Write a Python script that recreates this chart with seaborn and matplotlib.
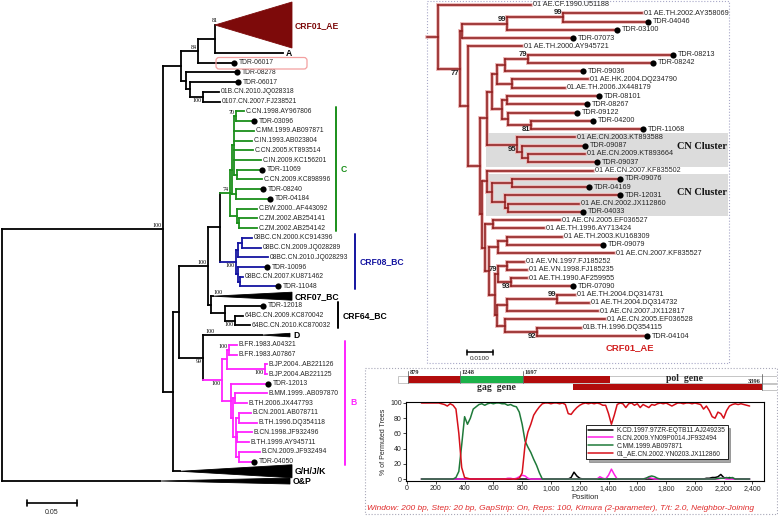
import numpy as np
import pandas as pd
import matplotlib
matplotlib.use("Agg")
import matplotlib.pyplot as plt
from matplotlib.patches import Polygon, Rectangle, FancyBboxPatch
from matplotlib.ticker import FuncFormatter, MultipleLocator
import seaborn as sns

# ---------------- data: left tree (whole-genome panel) ----------------
left_leaves = [
    "CRF01_AE", "A", "TDR-06017#1", "TDR-08278", "TDR-06017#2",
    "01B.CN.2010.JQ028318", "0107.CN.2007.FJ238521",
    "C.CN.1998.AY967806", "TDR-03096", "C.MM.1999.AB097871", "C.IN.1993.AB023804",
    "C.CN.2005.KT893514", "C.IN.2009.KC156201", "TDR-11069", "C.CN.2009.KC898996",
    "TDR-08240", "TDR-04184", "C.BW.2000..AF443092", "C.ZM.2002.AB254141", "C.ZM.2002.AB254142",
    "08BC.CN.2000.KC914396", "08BC.CN.2009.JQ028289", "08BC.CN.2010.JQ028293", "TDR-10096",
    "08BC.CN.2007.KU871462", "TDR-11048",
    "CRF07_BC", "TDR-12018", "64BC.CN.2009.KC870042", "64BC.CN.2010.KC870032", "D",
    "B.FR.1983.A04321", "B.FR.1983.A07867", "B.JP.2004..AB221126", "B.JP.2004.AB221125",
    "TDR-12013", "B.MM.1999..AB097870", "B.TH.2006.JX447793", "B.CN.2001.AB078711",
    "B.TH.1996.DQ354118", "B.CN.1998.JF932496", "B.TH.1999.AY945711", "B.CN.2009.JF932494",
    "TDR-04050", "G/H/J/K", "O&P",
]
# tip position of every leaf (tree units = px)
left_tips = [292, 283, 234, 237, 238, 219, 220,
             244, 254, 254, 252, 253, 261, 262, 262, 263, 270, 257, 257, 257,
             252, 261, 268, 267, 243, 278,
             292, 263, 243, 250, 290,
             237, 237, 267, 267, 268, 267, 247, 251, 257, 252, 249, 260, 254,
             292, 290]
c_clade = left_leaves[7:20]
bc_clade = left_leaves[20:26]
b_clade = left_leaves[31:44]
# collapsed clades: name -> (wedge start, half height)
collapsed = {"CRF01_AE": (215, 23), "CRF07_BC": (213, 4), "D": (262, 1.8),
             "G/H/J/K": (180, 6.5), "O&P": (160, 3)}
collapsed_support = {"CRF07_BC": "100", "D": "100"}


def nd(x, kids, bs=None, pos="nw"):
    return {"x": x, "kids": kids, "bs": bs, "pos": pos}


left_tree = nd(2, [
    nd(163, [
        nd(181, [
            nd(198, [nd(215, ["CRF01_AE", "A"], "81", "top"), "TDR-06017#1"], "84"),
            nd(186, ["TDR-08278",
                     nd(190, ["TDR-06017#2",
                              nd(203, ["01B.CN.2010.JQ028318", "0107.CN.2007.FJ238521"], "100", "sw")])]),
        ]),
        nd(173, [
            nd(179, [
                nd(208, [
                    nd(220, [
                        nd(230, [
                            nd(232, [
                                nd(234, [nd(236, ["C.CN.1998.AY967806", "TDR-03096"], "70"),
                                         "C.MM.1999.AB097871", "C.IN.1993.AB023804", "C.CN.2005.KT893514",
                                         "C.IN.2009.KC156201",
                                         nd(237, ["TDR-11069", "C.CN.2009.KC898996"])]),
                                nd(236, ["TDR-08240", "TDR-04184"]),
                            ]),
                            nd(237, ["C.BW.2000..AF443092",
                                     nd(239, ["C.ZM.2002.AB254141", "C.ZM.2002.AB254142"])]),
                        ], "74"),
                        nd(236, [
                            nd(238, [nd(242, ["08BC.CN.2000.KC914396", "08BC.CN.2009.JQ028289"]),
                                     "08BC.CN.2010.JQ028293"]),
                            nd(238, ["TDR-10096", nd(240, ["08BC.CN.2007.KU871462", "TDR-11048"])]),
                        ], "100", "sw"),
                    ]),
                    nd(211, ["CRF07_BC",
                             nd(225, ["TDR-12018",
                                      nd(235, ["64BC.CN.2009.KC870042", "64BC.CN.2010.KC870032"], "100", "sw")])]),
                ], "100"),
                nd(203, ["D",
                         nd(222, [
                             nd(227, [nd(229, ["B.FR.1983.A04321", "B.FR.1983.A07867"], "100"),
                                      nd(265, ["B.JP.2004..AB221126", "B.JP.2004.AB221125"], "100", "sw")]),
                             nd(231, ["TDR-12013",
                                      nd(233, [nd(235, ["B.MM.1999..AB097870", "B.TH.2006.JX447793"]),
                                               nd(236, [nd(239, ["B.CN.2001.AB078711", "B.TH.1996.DQ354118"]),
                                                        nd(237, ["B.CN.1998.JF932496", "B.TH.1999.AY945711"]),
                                                        nd(239, ["B.CN.2009.JF932494", "TDR-04050"])])])]),
                         ], "100", "sw")], "99", "sw"),
            ]),
            "G/H/J/K",
        ]),
    ], "100"),
    "O&P",
])

# ---------------- data: right tree (CRF01_AE panel) ----------------
right_leaves = [
    "01 AE.CF.1990.U51188", "01 AE.TH.2002.AY358069", "TDR-04046", "TDR-03100", "TDR-07073",
    "01 AE.TH.2000.AY945721", "TDR-08213", "TDR-08242", "TDR-09036", "01 AE.HK.2004.DQ234790",
    "01.AE.TH.2006.JX448179", "TDR-08101", "TDR-08267", "TDR-09122", "TDR-04200", "TDR-11068",
    "01 AE.CN.2003.KT893588", "TDR-09087", "01 AE.CN.2009.KT893664", "TDR-09037",
    "01 AE.CN.2007.KF835502", "TDR-09076", "TDR-04169", "TDR-12031", "01 AE.CN.2002.JX112860",
    "TDR-04033", "01 AE.CN.2005.EF036527", "01 AE.TH.1996.AY713424", "01 AE.TH.2003.KU168309",
    "TDR-09079", "01 AE.CN.2007.KF835527", "01 AE.VN.1997.FJ185252", "01 AE.VN.1998.FJ185235",
    "01 AE.TH.1990.AF259955", "TDR-07090", "01 AE.TH.2004.DQ314731", "01 AE.TH.2004.DQ314732",
    "01 AE.CN.2007.JX112817", "01 AE.CN.2005.EF036528", "01B.TH.1996.DQ354115", "TDR-04104",
]
right_tips = [531, 642, 648, 617, 573, 522, 673, 653, 583, 588, 565, 599, 587, 577, 593, 643,
              575, 585, 585, 597, 593, 620, 589, 620, 579, 583,
              560, 544, 562, 603, 614, 524, 527, 527, 573,
              575, 589, 598, 605, 581, 647]
cn_clusters = [("01 AE.CN.2003.KT893588", "TDR-09037"), ("TDR-09076", "TDR-04033")]

R = right_leaves
right_tree = nd(438, [
    R[0],
    nd(460, [
        nd(462, [nd(507, [nd(563, [R[1], R[2]], "99"), R[3]], "99"), R[4]]),
        nd(468, [R[5],
            nd(480, [
                nd(487, [
                    nd(492, [
                        nd(497, [nd(505, [nd(528, [R[6], R[7]], "79"), R[8]]),
                                 nd(512, [R[9], R[10]])]),
                        nd(502, [nd(507, [R[11], R[12]]),
                                 nd(508, [R[13], nd(531, [R[14], R[15]], "81", "sw")])]),
                    ]),
                    nd(517, [R[16], nd(522, [R[17], nd(528, [R[18], R[19]])])], "95", "sw"),
                ]),
                nd(482, [
                    nd(487, [R[20], nd(492, [nd(512, [R[21], R[22]]),
                                             nd(505, [R[23], nd(508, [R[24], R[25]])])])]),
                    nd(485, [nd(493, [R[26], R[27]]),
                             nd(489, [nd(498, [nd(507, [R[28], R[29]]), R[30]]),
                                      nd(495, [nd(498, [nd(507, [R[31], R[32]]),
                                                        nd(511, [R[33], R[34]], "93", "sw")], "79"),
                                               nd(497, [nd(507, [nd(557, [R[35], R[36]], "99"), R[37]]),
                                                        nd(505, [R[38], nd(537, [R[39], R[40]], "92", "sw")])])])])]),
                ]),
            ]),
        ]),
    ], "77", "sw"),
])

# ---------------- data: bootscan ----------------
positions = np.arange(100, 2400, 20)
strains = ["K.CD.1997.97ZR-EQTB11.AJ249235", "B.CN.2009.YN09P0014.JF932494",
           "C.MM.1999.AB097871", "01_AE.CN.2002.YN0203.JX112860"]
scan_k = [0, 0, 0, 0, 0, 0, 0, 0, 0, 0,
          0, 0, 0, 0, 0, 0, 0, 0, 0, 0,
          0, 0, 0, 0, 0, 0, 0, 0, 0, 0,
          0, 0, 0, 0, 0, 0, 0, 0, 0, 0,
          0, 0, 0, 0, 0, 0, 0, 0, 0, 0,
          0, 0, 2, 9, 4, 1, 0, 0, 0, 0,
          0, 0, 0, 0, 0, 0, 0, 0, 0, 0,
          0, 0, 0, 0, 0, 0, 0, 0, 0, 0,
          0, 0, 0, 0, 0, 0, 0, 0, 0, 0,
          0, 0, 0, 0, 0, 0, 0, 0, 0, 1,
          1, 2, 2, 3, 6, 2, 1, 2, 1, 0,
          0, 0, 0, 0, 0]
scan_b = [0, 0, 0, 0, 0, 0, 0, 0, 0, 0,
          0, 0, 0, 0, 0, 0, 0, 0, 0, 0,
          0, 0, 0, 0, 0, 0, 0, 0, 0, 0,
          1, 1, 0, 1, 3, 5, 4, 1, 0, 0,
          0, 0, 0, 0, 0, 0, 0, 0, 0, 0,
          0, 0, 0, 0, 0, 0, 0, 0, 0, 0,
          0, 0, 3, 1, 0, 5, 13, 6, 0, 0,
          0, 0, 0, 0, 0, 0, 0, 0, 1, 2,
          1, 0, 0, 0, 0, 0, 0, 0, 0, 0,
          0, 0, 0, 0, 0, 0, 0, 0, 0, 0,
          0, 0, 0, 0, 1, 1, 0, 0, 0, 0,
          0, 0, 0, 0, 0]
scan_c = [0, 0, 0, 0, 0, 0, 0, 0, 0, 0,
          0, 0, 2, 10, 45, 82, 72, 80, 92, 95,
          98, 99, 97, 99, 100, 99, 100, 100, 99, 99,
          97, 98, 96, 95, 88, 72, 50, 42, 35, 26,
          18, 8, 0, 0, 0, 0, 0, 0, 0, 0,
          0, 0, 0, 0, 0, 0, 0, 0, 0, 0,
          0, 0, 0, 0, 0, 0, 0, 0, 0, 0,
          0, 0, 0, 0, 0, 0, 0, 0, 1, 3,
          4, 3, 1, 0, 0, 0, 0, 0, 0, 0,
          0, 0, 0, 0, 0, 0, 0, 0, 0, 0,
          0, 0, 0, 1, 1, 1, 2, 1, 2, 0,
          0, 0, 0, 0, 0]
scan_ae = [100, 100, 100, 100, 100, 100, 100, 99, 98, 96,
           99, 97, 92, 60, 15, 2, 1, 0, 0, 0,
           0, 0, 0, 0, 0, 0, 0, 0, 0, 0,
           0, 0, 0, 0, 1, 8, 45, 62, 72, 84,
           90, 95, 99, 100, 100, 99, 100, 100, 99, 100,
           98, 86, 85, 90, 94, 97, 99, 100, 99, 100,
           99, 100, 99, 97, 97, 86, 72, 84, 98, 100,
           99, 94, 99, 100, 97, 99, 94, 98, 96, 94,
           98, 97, 99, 100, 99, 100, 98, 96, 98, 100,
           100, 99, 100, 100, 99, 100, 99, 98, 92, 96,
           90, 82, 80, 88, 86, 80, 90, 96, 98, 99,
           98, 99, 98, 97, 96]

# gene map (HXB2 coordinates)
gene_breaks = [879, 1248, 1697]
gag_segments = [(879, 1248, "red"), (1248, 1697, "green"), (1697, 2313, "red")]
pol_span = (2051, 3396)
caption = ("Window: 200 bp, Step: 20 bp, GapStrip: On, Reps: 100, "
           "Kimura (2-parameter), T/t: 2.0, Neighbor-Joining")

# ---------------- style ----------------
sns.set_theme(style="white", context="paper")
plt.rcParams["font.family"] = ["Liberation Sans", "DejaVu Sans"]

GREEN = "#1a8f1a"
BLUE = "#1414a0"
MAGENTA = "#ff22ff"
DARKRED = "#7d0a0a"
AE_RED = "#8e1b1b"
SERIF = "Liberation Serif"


def leaves_of(node):
    if isinstance(node, str):
        return [node]
    return [l for k in node["kids"] for l in leaves_of(k)]


def place(node, ypos):
    if isinstance(node, str):
        return ypos[node]
    ys = [place(k, ypos) for k in node["kids"]]
    node["ys"] = ys
    node["y"] = (ys[0] + ys[-1]) / 2
    return node["y"]


def seg(ax, xs, ys, c, lw, shadow):
    if shadow:
        ax.plot(xs, ys, color=shadow, lw=lw + 1.5, solid_capstyle="projecting", zorder=1)
    ax.plot(xs, ys, color=c, lw=lw, solid_capstyle="projecting", zorder=2)


def draw(ax, node, px, ypos, tips, colour_of, lw, bs_style, shadow=None):
    if isinstance(node, str):
        y = ypos[node]
        c = colour_of.get(node, "black")
        if node in collapsed and tips is left_tip:
            x0, h = collapsed[node]
            if x0 > px:
                seg(ax, [px, x0], [y, y], c, lw, shadow)
            fc = DARKRED if node == "CRF01_AE" else "black"
            ax.add_patch(Polygon([(x0, y), (tips[node], y - h), (tips[node], y + h)],
                                 closed=True, fc=fc, ec=fc, lw=0.6, zorder=2))
            if node in collapsed_support:
                ax.text(px + 2, y - 1.5, collapsed_support[node], ha="left", va="bottom",
                        fontsize=4.3, family=SERIF, color="black")
        else:
            seg(ax, [px, tips[node]], [y, y], c, lw, shadow)
        return
    cols = {colour_of.get(l, "black") for l in leaves_of(node)}
    c = cols.pop() if len(cols) == 1 else "black"
    x, y = node["x"], node["y"]
    if px is not None:
        seg(ax, [px, x], [y, y], c, lw, shadow)
    seg(ax, [x, x], [node["ys"][0], node["ys"][-1]], c, lw, shadow)
    if node["bs"]:
        if node["pos"] == "nw":
            ax.text(x - 1, y - 1, node["bs"], ha="right", va="bottom", **bs_style)
        elif node["pos"] == "sw":
            ax.text(x - 1, y + 1, node["bs"], ha="right", va="top", **bs_style)
        else:
            ax.text(x, node["ys"][0] - 2, node["bs"], ha="center", va="bottom", **bs_style)
    for k in node["kids"]:
        draw(ax, k, x, ypos, tips, colour_of, lw, bs_style, shadow)


fig = plt.figure(figsize=(7.78, 5.16), dpi=100)
ax = fig.add_axes([0, 0, 1, 1])

# ---------------- left tree ----------------
ROW, TOP = 9.727, 1.85
left_tip = dict(zip(left_leaves, left_tips))
left_y, acc = {}, 0.0
for name in left_leaves:
    span = 4.76 if name == "CRF01_AE" else 1.0
    left_y[name] = TOP + (acc + span / 2) * ROW
    acc += span
left_colour = {n: GREEN for n in c_clade}
left_colour.update({n: BLUE for n in bc_clade})
left_colour.update({n: MAGENTA for n in b_clade})
place(left_tree, left_y)
draw(ax, left_tree, None, left_y, left_tip, left_colour, 1.3,
     dict(fontsize=4.3, family=SERIF, color="black"))

dot_x, dot_y = [], []
for name in left_leaves:
    label = name.split("#")[0]
    x, y = left_tip[name], left_y[name]
    if name in collapsed or name == "A":
        ax.text(x + 3, y + 0.5, label, ha="left", va="center", fontsize=6.2,
                fontweight="bold", color=DARKRED if name == "CRF01_AE" else "black")
    elif label.startswith("TDR"):
        dot_x.append(x)
        dot_y.append(y)
        ax.text(x + 5, y, label, ha="left", va="center", fontsize=4.9)
    else:
        ax.text(x + 2, y, label, ha="left", va="center", fontsize=4.9)

ax.add_patch(FancyBboxPatch((216, 57.5), 91, 11.5, boxstyle="round,pad=0,rounding_size=3",
                            fc="none", ec="#f3a0a0", lw=0.9, zorder=3))

clade_bars = [("C", c_clade, 336, GREEN), ("CRF08_BC", bc_clade, 355, BLUE),
              ("CRF64_BC", ["TDR-12018", "64BC.CN.2010.KC870032"], 338, "black"),
              ("B", b_clade, 345, MAGENTA)]
for label, members, bx_, colour in clade_bars:
    y0, y1 = left_y[members[0]] - 4, left_y[members[-1]] + 3
    ax.plot([bx_, bx_], [y0, y1], color=colour, lw=1.4)
    ax.text(bx_ + 5, (y0 + y1) / 2, label, ha="left", va="center", fontsize=6.2,
            fontweight="bold", color=colour)

ax.plot([27, 77], [503, 503], color="black", lw=1.2)
ax.plot([27, 27], [500, 506], color="black", lw=1.2)
ax.plot([77, 77], [500, 506], color="black", lw=1.2)
ax.text(52, 512, "0.05", ha="center", va="center", fontsize=5)

# ---------------- right tree ----------------
RROW, RTOP = 8.275, 5.0
right_tip = dict(zip(right_leaves, right_tips))
right_y = {n: RTOP + i * RROW for i, n in enumerate(right_leaves)}
for first, last in cn_clusters:
    y0, y1 = right_y[first] - 4.3, right_y[last] + 4.3
    ax.add_patch(Rectangle((486, y0), 242, y1 - y0, fc="#dcdcdc", ec="none", zorder=0))
    ax.text(727, (y0 + y1) / 2 - 3, "CN Cluster", ha="right", va="center", fontsize=7.4,
            family=SERIF, fontweight="bold", color="#111111", zorder=3)
place(right_tree, right_y)
seg(ax, [427, 438], [right_tree["y"]] * 2, AE_RED, 1.1, "#ebb3b3")
draw(ax, right_tree, None, right_y, right_tip, {n: AE_RED for n in right_leaves}, 1.1,
     dict(fontsize=5.5, fontweight="bold", color="#222222"), shadow="#ebb3b3")
for name in right_leaves:
    x, y = right_tip[name], right_y[name]
    if name.startswith("TDR"):
        dot_x.append(x)
        dot_y.append(y)
        ax.text(x + 5, y, name, ha="left", va="center", fontsize=5.2, zorder=4)
    else:
        ax.text(x + 2, y, name, ha="left", va="center", fontsize=5.2, zorder=4)

sns.scatterplot(x=dot_x, y=dot_y, s=20, color="black", linewidth=0, ax=ax, zorder=5)

ax.text(630, 348, "CRF01_AE", ha="center", va="center", fontsize=6.8,
        fontweight="bold", color="#d22020")
ax.plot([467, 493], [352, 352], color="black", lw=1.1)
ax.plot([467, 467], [349.5, 354.5], color="black", lw=1.1)
ax.plot([493, 493], [349.5, 354.5], color="black", lw=1.1)
ax.text(480, 359, "0.0100", ha="center", va="center", fontsize=4.6)

# dotted panel frames
ax.add_patch(Rectangle((427, 1), 302, 362, fc="none", ec="#a8a8c8", lw=0.8, ls=":"))
ax.add_patch(Rectangle((365, 368), 412, 146, fc="none", ec="#a8a8b8", lw=0.8, ls=":"))
ax.text(561, 508, caption, ha="center", va="center", fontsize=6, style="italic",
        color="#e02b2b")

ax.set_xlim(0, 778)
ax.set_ylim(516, 0)
ax.axis("off")

# ---------------- gene map ----------------
gx = fig.add_axes([398 / 778, (516 - 400) / 516, 379 / 778, 34 / 516])
gx.set_xlim(808, 3500)
gx.set_ylim(34, 0)
gx.axis("off")
gx.add_patch(Rectangle((808, 10), 2690, 7, fc="white", ec="#bbbbbb", lw=0.6))
gx.add_patch(Rectangle((3396, 18), 102, 6, fc="white", ec="#bbbbbb", lw=0.6))
gene_col = {"red": "#b20c0c", "green": "#1cb24a"}
for s, e, col in gag_segments:
    gx.add_patch(Rectangle((s, 10), e - s, 7, fc=gene_col[col], ec="none"))
gx.add_patch(Rectangle((pol_span[0], 18), pol_span[1] - pol_span[0], 6, fc="#b20c0c", ec="none"))
for b in gene_breaks:
    gx.plot([b, b], [4.5, 17], color="#666666", lw=0.6)
    gx.text(b + 12, 9.3, str(b), ha="left", va="bottom", fontsize=4.6, family=SERIF,
            fontweight="bold")
gx.plot([pol_span[1]] * 2, [8, 24], color="#666666", lw=0.6)
gx.text(pol_span[1] - 15, 15.5, str(pol_span[1]), ha="right", va="center", fontsize=4.6,
        family=SERIF, fontweight="bold")
gx.text(2840, 12.5, "pol  gene", ha="center", va="center", fontsize=7, family=SERIF,
        fontweight="bold")
gx.text(1510, 21.5, "gag  gene", ha="center", va="center", fontsize=7, family=SERIF,
        fontweight="bold")

# ---------------- bootscan plot ----------------
bx = fig.add_axes([406 / 778, (516 - 481) / 516, 358 / 778, 79.3 / 516])
scan = pd.DataFrame({"Position": positions, strains[0]: scan_k, strains[1]: scan_b,
                     strains[2]: scan_c, strains[3]: scan_ae})
scan = scan.melt(id_vars="Position", var_name="strain", value_name="pct")
palette = {strains[0]: "black", strains[1]: "#ff1ee6", strains[2]: "#1f7a3a",
           strains[3]: "#d6101a"}
sns.lineplot(data=scan, x="Position", y="pct", hue="strain", hue_order=strains,
             palette=palette, lw=1.1, errorbar=None, legend=False, ax=bx)
for line, name in zip(bx.lines, strains):
    line.set_label(name)
bx.legend(loc="upper left", bbox_to_anchor=(0.503, 0.706), fontsize=4.8, frameon=True,
          fancybox=False, shadow=True, edgecolor="black", handlelength=3.8,
          handletextpad=0.5, borderpad=0.3, labelspacing=0.12, borderaxespad=0)
bx.get_legend().get_frame().set_linewidth(0.6)
bx.set_xlim(-7, 2480)
bx.set_ylim(-2.6, 101.7)
bx.xaxis.set_major_locator(MultipleLocator(200))
bx.yaxis.set_major_locator(MultipleLocator(20))
bx.xaxis.set_major_formatter(FuncFormatter(lambda v, _: f"{int(v):,}"))
bx.tick_params(labelsize=5, length=2, width=0.6, pad=1, bottom=True, left=True)
bx.set_xlabel("Position", fontsize=5.5, labelpad=1)
bx.set_ylabel("% of Permuted Trees", fontsize=5, labelpad=2)
for sp in bx.spines.values():
    sp.set_color("black")
    sp.set_linewidth(0.8)

fig.savefig("out.png", dpi=100)
